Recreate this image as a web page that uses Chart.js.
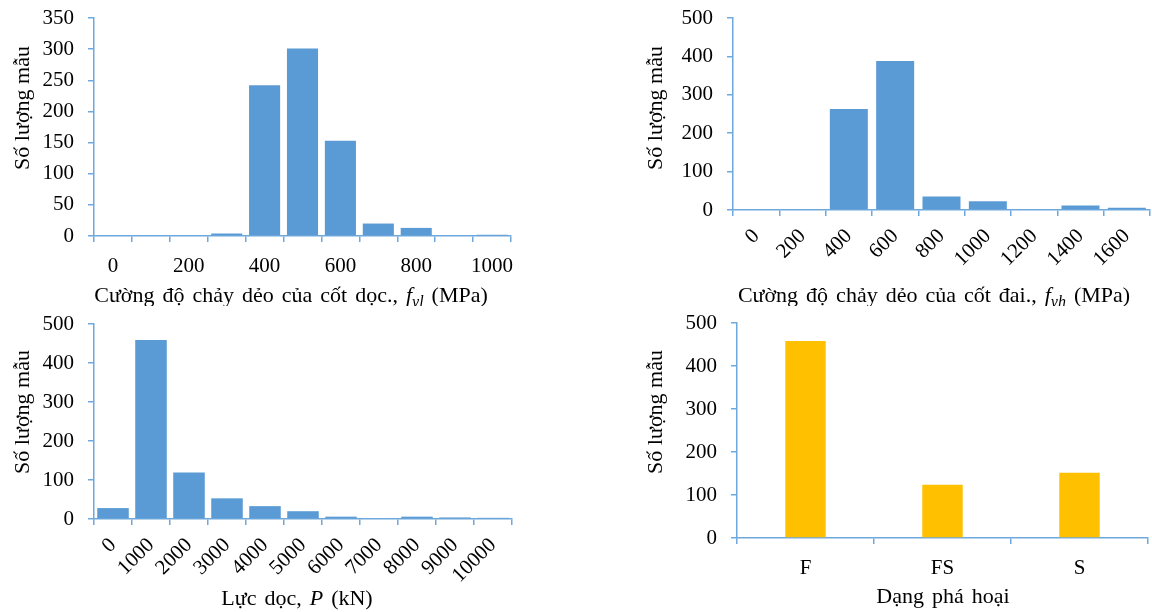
<!DOCTYPE html>
<html><head><meta charset="utf-8">
<script src="https://cdn.jsdelivr.net/npm/chart.js@4.4.1/dist/chart.umd.min.js"></script>
<style>
html,body{margin:0;padding:0;background:#fff;width:1152px;height:612px;overflow:hidden;position:relative}
canvas{position:absolute}
</style></head><body>
<canvas id="c1" width="576" height="306" style="left:0px;top:0px"></canvas>
<canvas id="c2" width="576" height="306" style="left:576px;top:0px"></canvas>
<canvas id="c3" width="576" height="306" style="left:0px;top:306px"></canvas>
<canvas id="c4" width="576" height="306" style="left:576px;top:306px"></canvas>
<script>
// ---- data ----
const fylLabels = ['0','100','200','300','400','500','600','700','800','900','1000'];
const fylCounts = [0,0,0,4,242,301,153,20,13,0,2];
const fyhLabels = ['0','200','400','600','800','1000','1200','1400','1600'];
const fyhCounts = [0,0,263,388,35,23,0,12,6];
const pLabels = ['0','1000','2000','3000','4000','5000','6000','7000','8000','9000','10000'];
const pCounts = [28,459,119,53,33,20,6,0,6,4,3];
const modeLabels = ['F','FS','S'];
const modeCounts = [458,124,152];
const yTitle = 'Số lượng mẫu';

const FONT = '"Liberation Serif", "Times New Roman", serif';
const AXIS = '#6FA8DC';
const BLUE = '#5B9BD5';
const GOLD = '#FFC000';
const TICK_SIZE = 21;
const TITLE_SIZE = 22;

const titlesPlugin = {
  id: 'titles',
  afterDraw(chart, args, opts) {
    const {ctx, chartArea} = chart;
    const size = TITLE_SIZE;
    // x title (rich text)
    const segs = opts.segments;
    if (segs) {
      ctx.save();
      ctx.fillStyle = '#000';
      ctx.textBaseline = 'alphabetic';
      ctx.textAlign = 'left';
      if ('wordSpacing' in ctx && opts.wordSpacing) ctx.wordSpacing = opts.wordSpacing + 'px';
      let total = 0;
      const parts = segs.map(s => {
        const fs = s.sub ? Math.round(size * 0.72) : size;
        const font = (s.italic ? 'italic ' : '') + fs + 'px ' + FONT;
        ctx.font = font;
        const w = ctx.measureText(s.text).width;
        total += w;
        return {font, w, s};
      });
      let x = opts.cx - total / 2;
      parts.forEach(p => {
        ctx.font = p.font;
        ctx.fillText(p.s.text, x, opts.y + (p.s.sub ? size * 0.22 : 0));
        x += p.w;
      });
      ctx.restore();
    }
    // y title (rotated)
    if (opts.yText) {
      ctx.save();
      ctx.fillStyle = '#000';
      ctx.font = size + 'px ' + FONT;
      ctx.textAlign = 'center';
      ctx.textBaseline = 'middle';
      ctx.translate(opts.ytx, opts.yty);
      ctx.rotate(-Math.PI / 2);
      ctx.fillText(opts.yText, 0, 0);
      ctx.restore();
    }
  }
};

function makeChart(id, p) {
  return new Chart(document.getElementById(id), {
    type: 'bar',
    data: {
      labels: p.labels,
      datasets: [{
        data: p.values,
        backgroundColor: p.color,
        borderWidth: 0,
        barPercentage: p.barPct,
        categoryPercentage: 1
      }]
    },
    plugins: [titlesPlugin],
    options: {
      responsive: false,
      animation: false,
      devicePixelRatio: 1,
      layout: {padding: {left: 0, right: p.padR, top: p.padT, bottom: 0}},
      plugins: {
        legend: {display: false},
        tooltip: {enabled: false},
        titles: p.titles
      },
      scales: {
        x: {
          type: 'category',
          offset: true,
          afterFit: s => { s.height = p.xH; s.paddingLeft = 0; s.paddingRight = 0; },
          grid: {offset: true, drawOnChartArea: false, drawTicks: true, tickLength: 6, color: AXIS, lineWidth: 1.5},
          border: {color: AXIS, width: 1.5},
          ticks: {
            autoSkip: false,
            color: '#000',
            font: {family: FONT, size: TICK_SIZE},
            padding: p.xPad,
            maxRotation: p.rot, minRotation: p.rot,
            callback: p.tickCb || function(v, i) { return this.getLabelForValue(v); }
          }
        },
        y: {
          min: 0, max: p.yMax,
          afterFit: s => { s.width = p.yW; s.paddingTop = 0; s.paddingBottom = 0; },
          grid: {drawOnChartArea: false, drawTicks: true, tickLength: 6, color: AXIS, lineWidth: 1.5},
          border: {color: AXIS, width: 1.5},
          ticks: {stepSize: p.yStep, color: '#000', font: {family: FONT, size: TICK_SIZE}, padding: 14}
        }
      }
    }
  });
}

makeChart('c1', {
  labels: fylLabels, values: fylCounts, color: BLUE, barPct: 0.82,
  padR: 65, padT: 18, yW: 94, xH: 70, xPad: 12, rot: 0,
  yMax: 350, yStep: 50,
  tickCb: function(v, i) { return i % 2 === 0 ? this.getLabelForValue(v) : ''; },
  titles: {segments: [{text: 'Cường độ chảy dẻo của cốt dọc., '}, {text: 'f', italic: true}, {text: 'yl', italic: true, sub: true}, {text: ' (MPa)'}], y: 302, cx: 291, wordSpacing: 2.5,
    yText: yTitle, ytx: 23, yty: 108}
});
makeChart('c2', {
  labels: fyhLabels, values: fyhCounts, color: BLUE, barPct: 0.82,
  padR: 2, padT: 18, yW: 157, xH: 96, xPad: 8, rot: 45,
  yMax: 500, yStep: 100,
  titles: {segments: [{text: 'Cường độ chảy dẻo của cốt đai., '}, {text: 'f', italic: true}, {text: 'yh', italic: true, sub: true}, {text: ' (MPa)'}], y: 302, cx: 358, wordSpacing: 2.5,
    yText: yTitle, ytx: 80, yty: 108}
});
makeChart('c3', {
  labels: pLabels, values: pCounts, color: BLUE, barPct: 0.83,
  padR: 64, padT: 18, yW: 94, xH: 93, xPad: 8, rot: 45,
  yMax: 500, yStep: 100,
  titles: {segments: [{text: 'Lực dọc, '}, {text: 'P', italic: true}, {text: ' (kN)'}], y: 299, cx: 297, wordSpacing: 2.5,
    yText: yTitle, ytx: 23, yty: 106}
});
makeChart('c4', {
  labels: modeLabels, values: modeCounts, color: GOLD, barPct: 0.295,
  padR: 4, padT: 17, yW: 161, xH: 74, xPad: 12, rot: 0,
  yMax: 500, yStep: 100,
  titles: {segments: [{text: 'Dạng phá hoại'}], y: 297, cx: 367, wordSpacing: 2.5,
    yText: yTitle, ytx: 80, yty: 106}
});
</script>
</body></html>
